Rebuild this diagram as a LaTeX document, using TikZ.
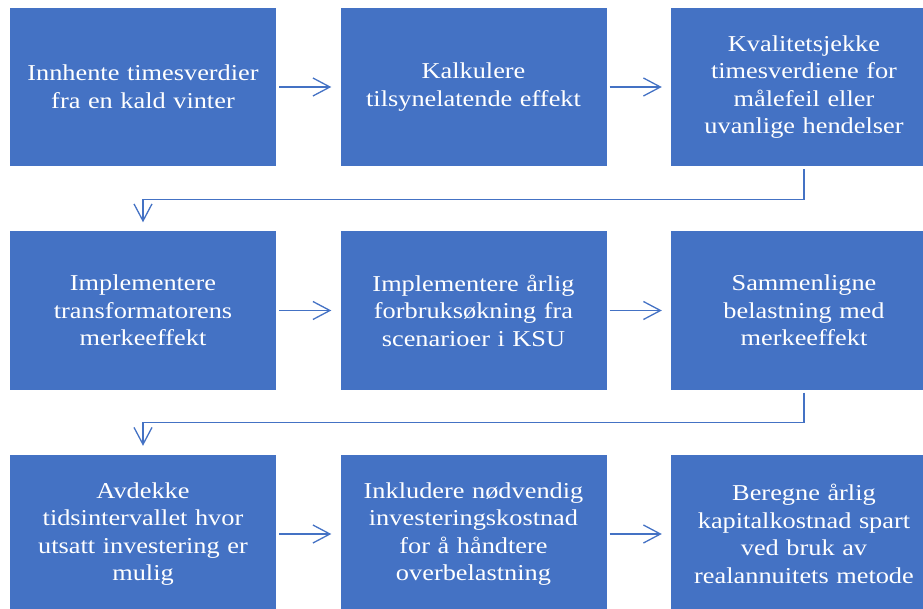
\documentclass[tikz,border=0pt]{standalone}
\usepackage{fontspec}
\setmainfont{Liberation Serif}
\newfontfamily\boxfont{Liberation Serif}[FakeStretch=1.16]
\usetikzlibrary{arrows.meta}
\definecolor{boxblue}{HTML}{4472C4}
\begin{document}
\begin{tikzpicture}[x=1pt,y=-1pt,
  stepbox/.style={fill=boxblue, draw=none, minimum width=266pt, minimum height=158pt,
    inner sep=0pt, text width=260pt, align=center, text=white,
    font=\boxfont\fontsize{22.7}{27.6}\selectfont},
  flow/.style={draw=boxblue, line width=1.3pt,
    -{Straight Barb[length=17pt,width=18pt,line width=1.3pt]},
    shorten <=3pt, shorten >=9pt}]
\useasboundingbox (0,0) rectangle (923,609);
\clip (0,0) rectangle (923,609);
% row 1
\node[stepbox] (a1) at (143,87) {Innhente timesverdier\\fra en kald vinter};
\node[stepbox] (a2) at (473.5,87) {Kalkulere\\tilsynelatende effekt};
\node[stepbox] (a3) at (804,87) {Kvalitetsjekke\\timesverdiene for\\målefeil eller\\uvanlige hendelser};
% row 2
\node[stepbox] (b1) at (143,310.5) {Implementere\\transformatorens\\merkeeffekt};
\node[stepbox] (b2) at (473.5,310.5) {Implementere årlig\\forbruksøkning fra\\scenarioer i KSU};
\node[stepbox] (b3) at (804,310.5) {Sammenligne\\belastning med\\merkeeffekt};
% row 3
\node[stepbox] (c1) at (143,534) {Avdekke\\tidsintervallet hvor\\utsatt investering er\\mulig};
\node[stepbox] (c2) at (473.5,534) {Inkludere nødvendig\\investeringskostnad\\for å håndtere\\overbelastning};
\node[stepbox] (c3) at (804,534) {Beregne årlig\\kapitalkostnad spart\\ved bruk av\\realannuitets metode};
% connectors
\draw[flow] (a1) -- (a2);
\draw[flow] (a2) -- (a3);
\draw[flow] (b1) -- (b2);
\draw[flow] (b2) -- (b3);
\draw[flow] (c1) -- (c2);
\draw[flow] (c2) -- (c3);
\draw[flow] (a3.south) -- ++(0,33) -| (b1.north);
\draw[flow] (b3.south) -- ++(0,33) -| (c1.north);
\end{tikzpicture}
\end{document}
